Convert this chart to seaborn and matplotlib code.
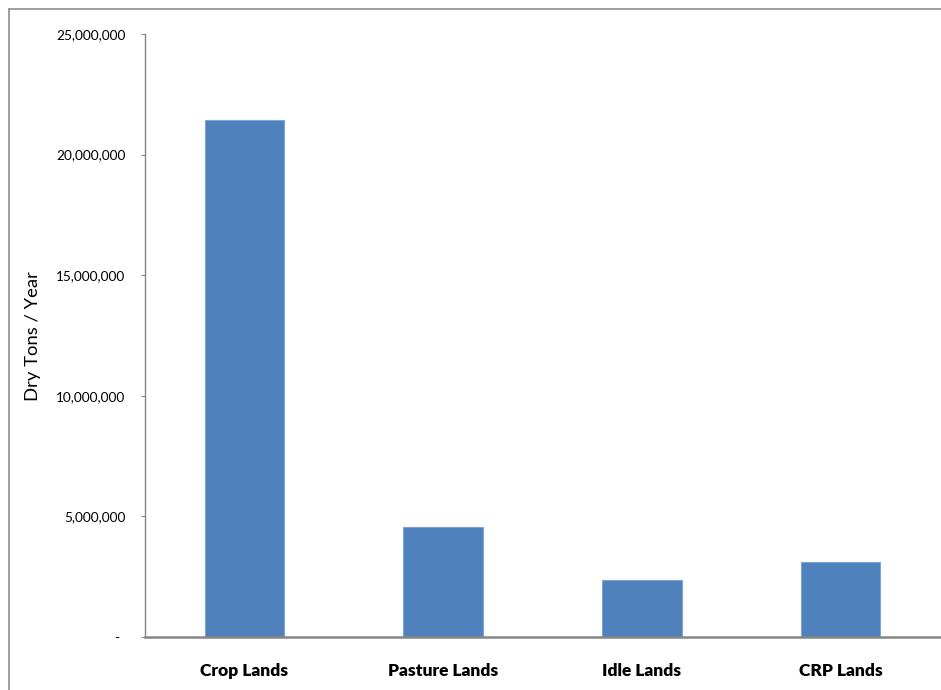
import matplotlib
matplotlib.use("Agg")
import matplotlib.pyplot as plt
from matplotlib.lines import Line2D
from matplotlib.ticker import FuncFormatter, MultipleLocator
import seaborn as sns
import pandas as pd

# Biomass supply by land type
categories = ["Crop Lands", "Pasture Lands", "Idle Lands", "CRP Lands"]
dry_tons = [21_430_000, 4_560_000, 2_370_000, 3_100_000]
y_label = "Dry Tons / Year"

sns.set_theme(style="white")
plt.rcParams["font.family"] = ["Lato", "DejaVu Sans"]

df = pd.DataFrame({"land": categories, "tons": dry_tons})

W, H = 941, 690
fig = plt.figure(figsize=(W / 100, H / 100), dpi=100)
ax = fig.add_axes([145 / W, 1 - 637 / H, (940 - 145) / W, (637 - 34) / H])

sns.barplot(data=df, x="land", y="tons", color="#4F81BD", saturation=1,
            width=0.4, edgecolor="#7FA3D2", linewidth=0.8, ax=ax)

ax.set_xlim(-0.5, 3.5)
ax.set_ylim(0, 25_000_000)
ax.yaxis.set_major_locator(MultipleLocator(5_000_000))


def fmt_tons(v, pos):
    # zero gets its own accounting-style dash below
    return "" if v == 0 else f"{v:,.0f}"


ax.yaxis.set_major_formatter(FuncFormatter(fmt_tons))
ax.annotate("-", xy=(0, 0), xycoords=("axes fraction", "data"),
            xytext=(-28, -1), textcoords="offset pixels",
            ha="center", va="center", fontsize=9.8, color="#000000")

for side in ("top", "right"):
    ax.spines[side].set_visible(False)
ax.spines["left"].set_color("#868686")
ax.spines["left"].set_linewidth(1.0)
ax.spines["bottom"].set_color("#868686")
ax.spines["bottom"].set_linewidth(1.8)

ax.tick_params(axis="y", which="major", left=True, length=3, width=0.8,
               color="#868686", pad=11, labelsize=9.8, labelcolor="#000000")
ax.tick_params(axis="x", bottom=False, pad=13, labelsize=12.5, labelcolor="#000000")
for lab in ax.get_xticklabels():
    lab.set_fontweight("heavy")

ax.set_xlabel("")
ax.set_ylabel("")
fig.text(33 / W, 1 - 336 / H, y_label, rotation=90, ha="center", va="center",
         fontsize=13.3, color="#000000")

# outer chart frame (top and left edges)
fig.add_artist(Line2D([9 / W, 1.0], [1 - 9 / H, 1 - 9 / H], color="#8C8C8C", lw=1.2))
fig.add_artist(Line2D([9 / W, 9 / W], [0.0, 1 - 9 / H], color="#8C8C8C", lw=1.2))

fig.savefig("out.png", dpi=100, facecolor="white")
